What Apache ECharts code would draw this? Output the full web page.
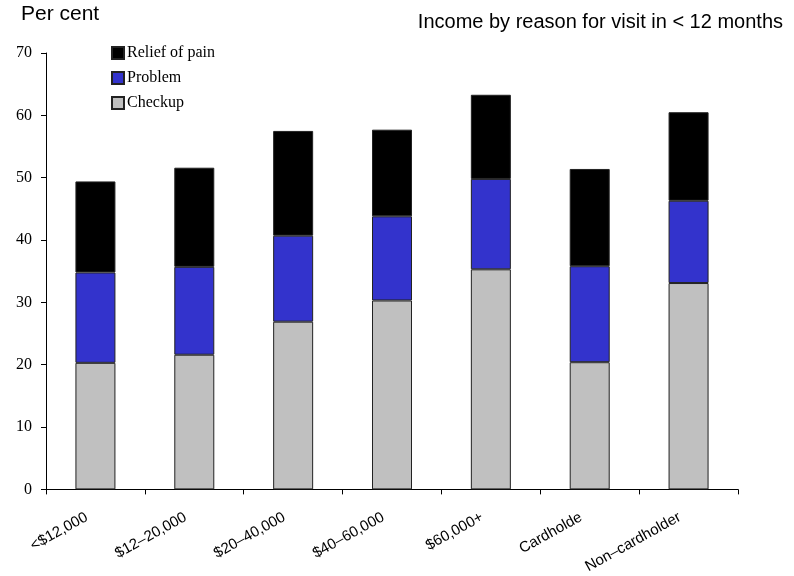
<!DOCTYPE html>
<html><head><meta charset="utf-8">
<script src="https://cdn.jsdelivr.net/npm/echarts@6/dist/echarts.min.js"></script>
<style>html,body{margin:0;padding:0;background:#fff}#c{width:794px;height:576px}</style>
</head><body><div id="c"></div>
<script>
const categories = ['<$12,000', '$12\u201320,000', '$20\u201340,000', '$40\u201360,000', '$60,000+', 'Cardholde', 'Non\u2013cardholder'];
const checkup = [20.3, 21.6, 26.9, 30.3, 35.3, 20.4, 33.1];
const problem = [14.5, 14.1, 13.8, 13.5, 14.5, 15.4, 13.2];
const relief = [14.6, 15.9, 16.8, 13.9, 13.5, 15.6, 14.2];
const yTicks = [0, 10, 20, 30, 40, 50, 60, 70];

const chart = echarts.init(document.getElementById('c'));
const common = { type: 'bar', stack: 'all', barWidth: 40 };
chart.setOption({
  animation: false,
  backgroundColor: '#fff',
  graphic: [
    { type: 'text', left: 21, top: 4, style: { text: 'Per cent', font: '21px Arial, "Liberation Sans"', fill: '#000' } },
    { type: 'text', right: 11, top: 12, style: { text: 'Income by reason for visit in < 12 months', font: '20px Arial, "Liberation Sans"', fill: '#000' } }
  ],
  legend: {
    orient: 'vertical', left: 106, top: 40, itemWidth: 12, itemHeight: 12, itemGap: 9, icon: 'rect',
    data: ['Relief of pain', 'Problem', 'Checkup'],
    textStyle: { fontFamily: '"Liberation Serif", "Times New Roman", serif', fontSize: 16, lineHeight: 16, color: '#000', padding: [0, 0, 0, -2] }
  },
  grid: { left: 46, right: 56, top: 53, bottom: 86 },
  xAxis: {
    type: 'category', data: categories,
    axisLine: { lineStyle: { color: '#000', width: 1 } },
    axisTick: { show: true, alignWithLabel: false, length: 5, lineStyle: { color: '#000' } },
    axisLabel: { rotate: 29, interval: 0, margin: 22, padding: [0, 10, 0, 0], fontFamily: 'Arial, "Liberation Sans"', fontSize: 15, color: '#000' }
  },
  yAxis: {
    type: 'value', min: 0, max: 70, interval: 10,
    splitLine: { show: false },
    axisLine: { show: true, lineStyle: { color: '#000', width: 1 } },
    axisTick: { show: true, length: 5, lineStyle: { color: '#000' } },
    axisLabel: { margin: 14, fontFamily: '"Liberation Serif", "Times New Roman", serif', fontSize: 16, color: '#000',
      formatter: v => yTicks.includes(v) ? String(v) : '' }
  },
  series: [
    Object.assign({ name: 'Checkup', data: checkup, itemStyle: { color: '#C0C0C0', borderColor: '#222', borderWidth: 1 } }, common),
    Object.assign({ name: 'Problem', data: problem, itemStyle: { color: '#3333CC', borderColor: '#222', borderWidth: 1 } }, common),
    Object.assign({ name: 'Relief of pain', data: relief, itemStyle: { color: '#000000', borderColor: '#222', borderWidth: 1 } }, common)
  ]
});
</script></body></html>
